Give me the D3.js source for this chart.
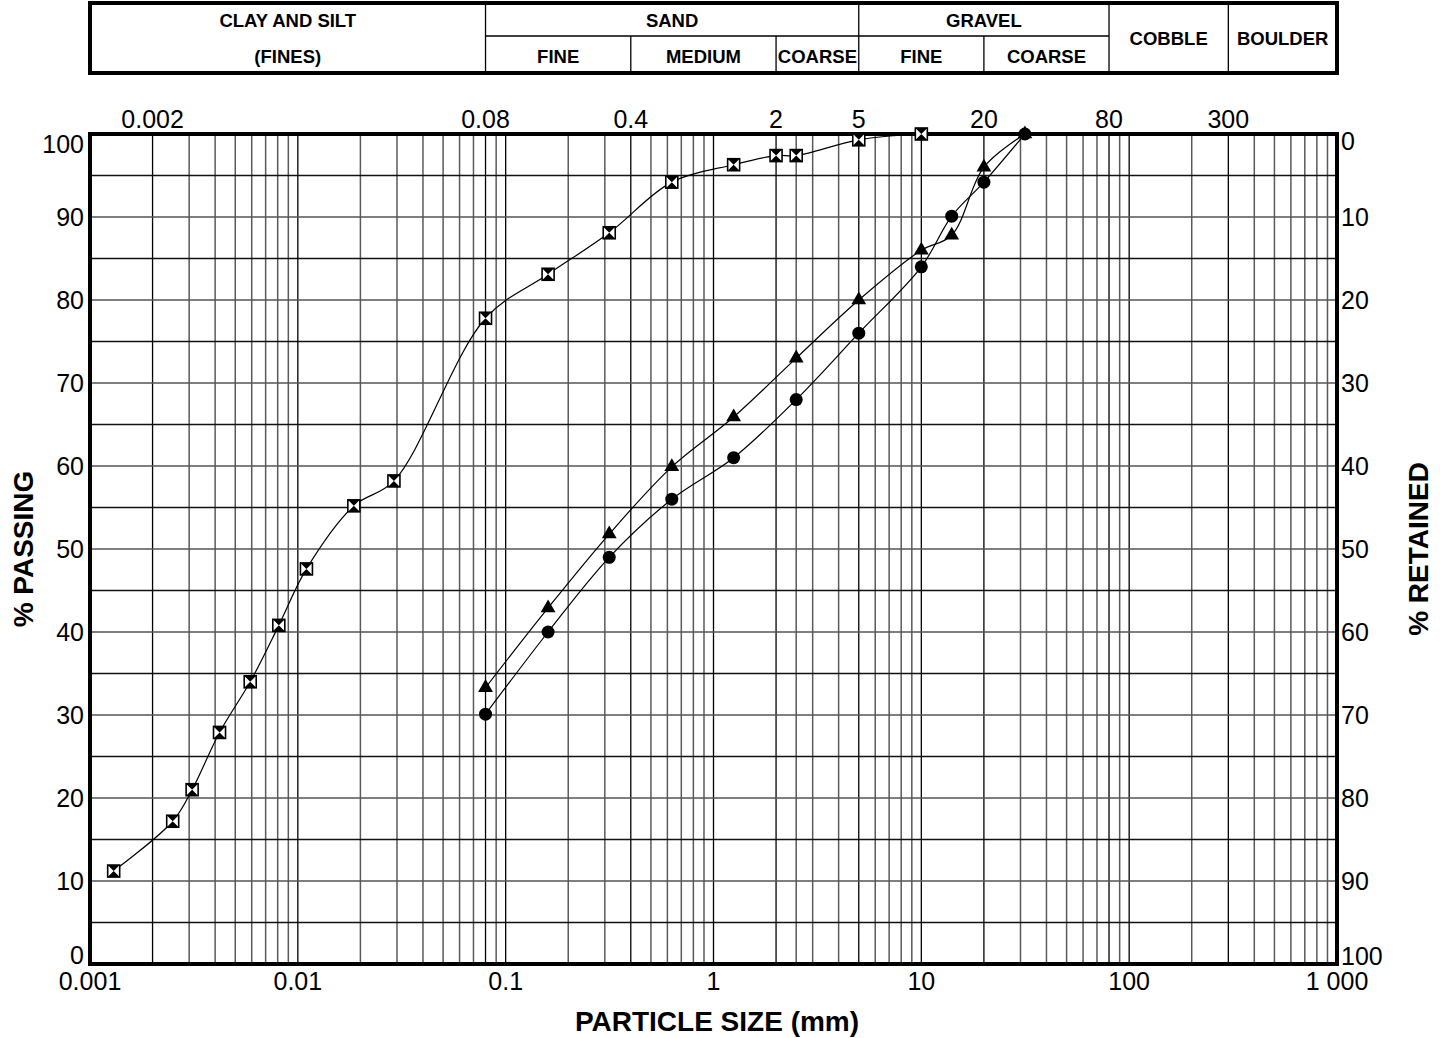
<!DOCTYPE html>
<html lang="en">
<head>
<meta charset="UTF-8">
<title>Particle size distribution</title>
<script src="https://cdnjs.cloudflare.com/ajax/libs/d3/7.9.0/d3.min.js"></script>
<style>
  body { margin: 0; background: #fff; }
  text { font-family: Arial, "Liberation Sans", sans-serif; }
</style>
</head>
<body>
<div id="chart"></div>
<script>
// sieve / hydrometer sizes (mm) and % passing
const sizesA = [0.0013, 0.0025, 0.0031, 0.0042, 0.0059, 0.0081, 0.011, 0.0186, 0.029, 0.08, 0.16, 0.315, 0.63, 1.25, 2, 2.5, 5, 10];
const passA  = [11.2, 17.2, 21, 27.9, 34, 40.8, 47.6, 55.2, 58.2, 77.8, 83.1, 88.1, 94.2, 96.3, 97.4, 97.4, 99.3, 100];
const sizesB = [0.08, 0.16, 0.315, 0.63, 1.25, 2.5, 5, 10, 14, 20, 31.5];
const passB  = [33.3, 42.9, 51.8, 59.9, 65.9, 73, 80, 86, 87.8, 96, 100];
const sizesC = [0.08, 0.16, 0.315, 0.63, 1.25, 2.5, 5, 10, 14, 20, 31.5];
const passC  = [30.1, 40, 49, 56, 61, 68, 76, 84, 90.1, 94.2, 100];

// grain size classes (header table)
const groups = [
  { name: "CLAY AND SILT", sub: "(FINES)", from: 0.001, to: 0.08 },
  { name: "SAND", from: 0.08, to: 5, parts: [["FINE", 0.08, 0.4], ["MEDIUM", 0.4, 2], ["COARSE", 2, 5]] },
  { name: "GRAVEL", from: 5, to: 80, parts: [["FINE", 5, 20], ["COARSE", 20, 80]] },
  { name: "COBBLE", from: 80, to: 300 },
  { name: "BOULDER", from: 300, to: 1000 }
];
const topTicks = [0.002, 0.08, 0.4, 2, 5, 20, 80, 300];
const bottomTicks = [0.001, 0.01, 0.1, 1, 10, 100, 1000];
const bottomLabels = ["0.001", "0.01", "0.1", "1", "10", "100", "1 000"];
const yTicks = d3.range(0, 101, 10);

const W = 1440, H = 1038;
const L = 90, R = 1337, T = 134, B = 964;

const svg = d3.select("#chart").append("svg")
  .attr("width", W).attr("height", H);

const x = d3.scaleLog().domain([0.001, 1000]).range([L, R]);
const y = d3.scaleLinear().domain([0, 100]).range([B, T]);

// vertical grid
const vlines = [];
for (let e = -3; e < 3; e++) {
  for (let k = 1; k < 10; k++) vlines.push(k * Math.pow(10, e));
}
vlines.push(2.5);
const near = (a, v) => a.some(t => Math.abs(t - v) / v < 1e-6);
const dark = v => near(bottomTicks, v) || near(topTicks, v);
svg.append("g").selectAll("line").data(vlines).enter().append("line")
  .attr("x1", d => x(d)).attr("x2", d => x(d))
  .attr("y1", T).attr("y2", B)
  .attr("stroke", d => dark(d) ? "#000" : "#5a5a5a")
  .attr("stroke-width", d => dark(d) ? 1.3 : 1.5);

// horizontal grid
svg.append("g").selectAll("line").data(d3.range(5, 100, 5)).enter().append("line")
  .attr("x1", L).attr("x2", R)
  .attr("y1", d => y(d)).attr("y2", d => y(d))
  .attr("stroke", d => d % 10 === 0 ? "#555" : "#111")
  .attr("stroke-width", 1.4);

// frame
svg.append("rect").attr("x", L).attr("y", T).attr("width", R - L).attr("height", B - T)
  .attr("fill", "none").attr("stroke", "#000").attr("stroke-width", 4);

// left / right axis labels (end labels pulled inside)
const shift = d => d === 100 ? 19 : d === 0 ? 0 : 9;
svg.append("g").selectAll("text").data(yTicks).enter().append("text")
  .attr("x", L - 6).attr("y", d => y(d) + shift(d))
  .attr("text-anchor", "end").attr("font-size", 25).text(d => d);
svg.append("g").selectAll("text").data(yTicks).enter().append("text")
  .attr("x", R + 4).attr("y", d => y(d) + (d === 100 ? 16 : d === 0 ? 1 : 9))
  .attr("text-anchor", "start").attr("font-size", 25).text(d => 100 - d);

// bottom ticks
svg.append("g").selectAll("text").data(bottomTicks).enter().append("text")
  .attr("x", d => x(d)).attr("y", B + 26)
  .attr("text-anchor", "middle").attr("font-size", 25)
  .text((d, i) => bottomLabels[i]);

// top ticks
svg.append("g").selectAll("text").data(topTicks).enter().append("text")
  .attr("x", d => x(d)).attr("y", T - 6)
  .attr("text-anchor", "middle").attr("font-size", 25).text(d => d);

// axis titles
svg.append("text").attr("x", 717).attr("y", 1031).attr("text-anchor", "middle")
  .attr("font-size", 28).attr("font-weight", "bold").text("PARTICLE SIZE (mm)");
svg.append("text").attr("transform", "translate(33,549) rotate(-90)").attr("text-anchor", "middle")
  .attr("font-size", 28).attr("font-weight", "bold").text("% PASSING");
svg.append("text").attr("transform", "translate(1428,549) rotate(-90)").attr("text-anchor", "middle")
  .attr("font-size", 28).attr("font-weight", "bold").text("% RETAINED");

// header table
const hT = 3, hM = 36, hB = 73;
const fs = 18.5;
const head = svg.append("g");
groups.forEach(g => {
  const x0 = x(g.from), x1 = x(g.to), cx = (x0 + x1) / 2;
  if (g.parts) {
    head.append("text").attr("x", cx).attr("y", 27).attr("text-anchor", "middle")
      .attr("font-size", fs).attr("font-weight", "bold").text(g.name);
    head.append("line").attr("x1", x0).attr("x2", x1).attr("y1", hM).attr("y2", hM)
      .attr("stroke", "#000").attr("stroke-width", 1.3);
    g.parts.forEach((p, i) => {
      if (i > 0) head.append("line").attr("x1", x(p[1])).attr("x2", x(p[1])).attr("y1", hM).attr("y2", hB)
        .attr("stroke", "#000").attr("stroke-width", 1.3);
      head.append("text").attr("x", (x(p[1]) + x(p[2])) / 2).attr("y", 63).attr("text-anchor", "middle")
        .attr("font-size", fs).attr("font-weight", "bold").text(p[0]);
    });
  } else if (g.sub) {
    head.append("text").attr("x", cx).attr("y", 27).attr("text-anchor", "middle")
      .attr("font-size", fs).attr("font-weight", "bold").text(g.name);
    head.append("text").attr("x", cx).attr("y", 63).attr("text-anchor", "middle")
      .attr("font-size", fs).attr("font-weight", "bold").text(g.sub);
  } else {
    head.append("text").attr("x", cx).attr("y", 45).attr("text-anchor", "middle")
      .attr("font-size", fs).attr("font-weight", "bold").text(g.name);
  }
});
head.selectAll(".sep").data([0.08, 5, 80, 300]).enter().append("line")
  .attr("x1", d => x(d)).attr("x2", d => x(d)).attr("y1", hT).attr("y2", hB)
  .attr("stroke", "#000").attr("stroke-width", 1.3);
head.append("rect").attr("x", L).attr("y", hT).attr("width", R - L).attr("height", hB - hT)
  .attr("fill", "none").attr("stroke", "#000").attr("stroke-width", 4);

// curves
const line = d3.line().x(d => x(d[0])).y(d => y(d[1])).curve(d3.curveCatmullRom.alpha(0.5));
const series = [
  { pts: d3.zip(sizesA, passA), mark: "hour" },
  { pts: d3.zip(sizesB, passB), mark: "tri" },
  { pts: d3.zip(sizesC, passC), mark: "dot" }
];
series.forEach(s => {
  svg.append("path").attr("d", line(s.pts)).attr("fill", "none")
    .attr("stroke", "#000").attr("stroke-width", 1.2);
});

// markers
series.forEach(s => {
  const g = svg.append("g");
  s.pts.forEach(p => {
    const px = x(p[0]), py = y(p[1]);
    if (s.mark === "hour") {
      const r = 6;
      g.append("rect").attr("x", px - r).attr("y", py - r).attr("width", 2 * r).attr("height", 2 * r)
        .attr("fill", "#fff").attr("stroke", "#000").attr("stroke-width", 1.6);
      g.append("path").attr("d", `M${px - r},${py - r}L${px + r},${py - r}L${px - r},${py + r}L${px + r},${py + r}Z`)
        .attr("fill", "#000");
    } else if (s.mark === "tri") {
      g.append("path").attr("d", d3.symbol(d3.symbolTriangle, 95)()).attr("transform", `translate(${px},${py})`)
        .attr("fill", "#000");
    } else {
      g.append("circle").attr("cx", px).attr("cy", py).attr("r", 6.5).attr("fill", "#000");
    }
  });
});
</script>
</body>
</html>
